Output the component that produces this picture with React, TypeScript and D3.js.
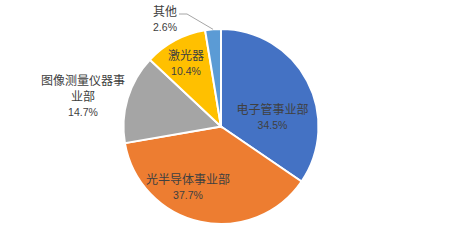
import React from "react";
import * as d3 from "d3";

const categories = ["电子管事业部", "光半导体事业部", "图像测量仪器事业部", "激光器", "其他"];
const values = [34.5, 37.7, 14.7, 10.4, 2.6];
const valueLabels = ["34.5%", "37.7%", "14.7%", "10.4%", "2.6%"];
const colors = ["#4472C4", "#ED7D31", "#A5A5A5", "#FFC000", "#5B9BD5"];

// label layout: name lines and label block center
const labelLines = [["电子管事业部"], ["光半导体事业部"], ["图像测量仪器事", "业部"], ["激光器"], ["其他"]];
const labelPos: [number, number][] = [
  [272.5, 110],
  [188, 180],
  [83, 81],
  [186, 55.5],
  [165, 11.5],
];

const W = 452, H = 252;
const cx = 221, cy = 126.5, R = 97.5;

export default function App() {
  const pie = d3.pie<number>().sort(null).value((d) => d)(values);
  const arc = d3.arc<d3.PieArcDatum<number>>().innerRadius(0).outerRadius(R);
  const font = "'Noto Sans CJK SC', 'Microsoft YaHei', sans-serif";
  const lineH = 15.5;

  // leader line for last slice
  const last = pie[4];
  const mid = (last.startAngle + last.endAngle) / 2;
  const ex = cx + R * Math.sin(mid);
  const ey = cy - R * Math.cos(mid);

  return (
    <svg width={W} height={H} style={{ position: "absolute", left: 0, top: 0, background: "#fff" }}>
      <g transform={`translate(${cx},${cy})`}>
        {pie.map((p, i) => (
          <path key={i} d={arc(p) || ""} fill={colors[i]} stroke="#fff" strokeWidth={2} />
        ))}
      </g>
      <polyline
        points={`${labelPos[4][0] + 14},${labelPos[4][1] + 2.5} ${labelPos[4][0] + 22},${labelPos[4][1] + 2.5} ${ex},${ey}`}
        fill="none"
        stroke="#A6A6A6"
        strokeWidth={1}
      />
      {categories.map((c, i) => {
        const [lx, ly] = labelPos[i];
        const lines = labelLines[i];
        return (
          <g key={c} fill="#404040" textAnchor="middle">
            {lines.map((t, j) => (
              <text key={j} x={lx} y={ly + j * lineH} dy="0.36em" fontSize={12} fontFamily={font}>
                {t}
              </text>
            ))}
            <text
              x={lx}
              y={ly + lines.length * lineH}
              dy="0.36em"
              fontSize={10.5}
              fontFamily="'Liberation Sans', Arial, sans-serif"
            >
              {valueLabels[i]}
            </text>
          </g>
        );
      })}
    </svg>
  );
}
